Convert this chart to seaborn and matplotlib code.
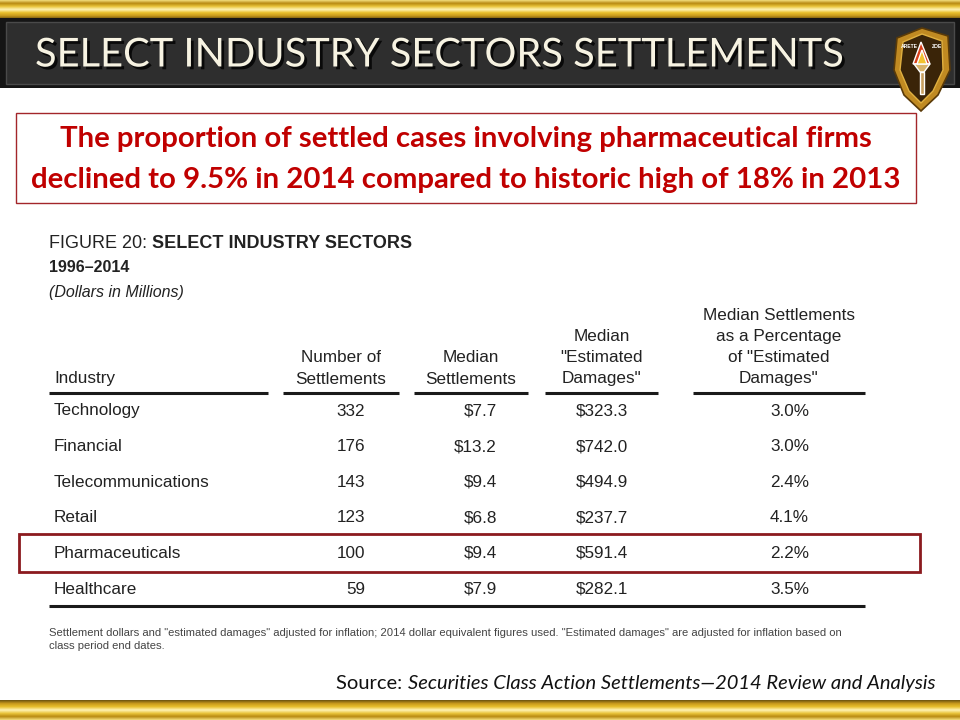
import numpy as np
import matplotlib
matplotlib.use("Agg")
import matplotlib.pyplot as plt
import matplotlib.patheffects as pe
from matplotlib.colors import LinearSegmentedColormap
from matplotlib.patches import Rectangle, Polygon
import seaborn as sns

# table data (Figure 20, 1996-2014, dollars in millions)
industries = ["Technology", "Financial", "Telecommunications", "Retail",
              "Pharmaceuticals", "Healthcare"]
n_settlements = [332, 176, 143, 123, 100, 59]
median_settlements = [7.7, 13.2, 9.4, 6.8, 9.4, 7.9]
median_damages = [323.3, 742.0, 494.9, 237.7, 591.4, 282.1]
pct_of_damages = [3.0, 3.0, 2.4, 4.1, 2.2, 3.5]

col_headers = [
    ["Industry"],
    ["Number of", "Settlements"],
    ["Median", "Settlements"],
    ["Median", '"Estimated', 'Damages"'],
    ["Median Settlements", "as a Percentage", 'of "Estimated', 'Damages"'],
]
highlight = "Pharmaceuticals"

sns.set_theme(style="white")
plt.rcParams["font.family"] = ["Liberation Sans", "DejaVu Sans"]

fig = plt.figure(figsize=(9.6, 7.2), dpi=100)
ax = fig.add_axes([0, 0, 1, 1])
ax.set_xlim(0, 960)
ax.set_ylim(720, 0)
ax.axis("off")


def text_width(t):
    fig.canvas.draw()
    bb = t.get_window_extent().transformed(ax.transData.inverted())
    return bb.x0, bb.x1


def fit_width(t, target):
    # rescale a text's font size so it spans the width seen in the slide
    x0, x1 = text_width(t)
    t.set_fontsize(t.get_fontsize() * target / (x1 - x0))


# gold bands top and bottom
gold = LinearSegmentedColormap.from_list(
    "gold", ["#f2dc7a", "#b88a12", "#e9c43a", "#fff4b8", "#e8bf2c", "#c99a1c", "#6b5210"])
grad = np.linspace(0, 1, 64).reshape(-1, 1)
ax.imshow(grad, cmap=gold, extent=[0, 960, 19, 0], aspect="auto", zorder=1)
ax.imshow(grad[::-1], cmap=gold, extent=[0, 960, 720, 700], aspect="auto", zorder=1)

# dark header
ax.add_patch(Rectangle((0, 18), 960, 70, facecolor="#151515", edgecolor="none", zorder=2))
ax.add_patch(Rectangle((6, 22), 948, 62, facecolor="#2e2e2e", edgecolor="#4a4a4a", lw=1, zorder=3))
title = ax.text(35, 55, "SELECT INDUSTRY SECTORS SETTLEMENTS", fontsize=34, color="#f7f3e2",
                family=["Lato", "DejaVu Sans"], va="center", ha="left", zorder=5,
                path_effects=[pe.withSimplePatchShadow(offset=(2, -2), shadow_rgbFace="black", alpha=0.8)])
fit_width(title, 810)

# shield logo
shield = [(897, 38), (922, 28), (948, 36), (950, 70), (938, 95), (921, 111), (904, 95), (894, 70)]
ax.add_patch(Polygon(shield, closed=True, facecolor="#c08a22", edgecolor="#5a3a08", lw=1.2, zorder=6))
inner = [(903, 42), (922, 34), (942, 41), (943, 70), (933, 91), (921, 103), (909, 91), (900, 70)]
ax.add_patch(Polygon(inner, closed=True, facecolor="#3a2408", edgecolor="#e0b040", lw=1, zorder=7))
ax.add_patch(Polygon([(913, 64), (921, 42), (930, 64)], closed=True, facecolor="#d8401a", zorder=8))
ax.add_patch(Polygon([(917, 64), (922, 50), (927, 64)], closed=True, facecolor="#f2c230", zorder=9))
ax.add_patch(Polygon([(914, 64), (930, 64), (924, 72), (920, 72)], closed=True, facecolor="#d9b36a", zorder=8))
ax.add_patch(Rectangle((920, 72), 4, 22, facecolor="#c8a060", zorder=8))
ax.text(909, 46, "ARETE", fontsize=3.6, color="white", ha="center", va="center", weight="bold", zorder=10)
ax.text(937, 46, "ZOE", fontsize=3.6, color="white", ha="center", va="center", weight="bold", zorder=10)

# red callout
ax.add_patch(Rectangle((16, 113), 900, 90, facecolor="white", edgecolor="#a3262a", lw=1, zorder=2))
callout = ["The proportion of settled cases involving pharmaceutical firms",
           "declined to 9.5% in 2014 compared to historic high of 18% in 2013"]
for i, line in enumerate(callout):
    ax.text(466, 139 + 41 * i, line, fontsize=21.2, weight="bold", color="#c00000",
            family=["Lato", "DejaVu Sans"], ha="center", va="center", zorder=3)

# figure caption
cap = ax.text(49, 243, "FIGURE 20: ", fontsize=13, color="#222222", va="center")
cx0, cx1 = text_width(cap)
ax.text(cx1, 243, "SELECT INDUSTRY SECTORS", fontsize=13, color="#222222", weight="bold", va="center")
ax.text(49, 268, "1996\u20132014", fontsize=11.5, weight="bold", color="#222222", va="center")
ax.text(49, 292, "(Dollars in Millions)", fontsize=11.5, style="italic", color="#222222", va="center")

# column layout
seg_x = [(49, 268), (283, 399), (414, 528), (545, 658), (693, 865)]
head_line_y = 393
row0_y, row_step = 411, 35.6
head_step = 21.3

for (x0, x1), lines in zip(seg_x, col_headers):
    ax.hlines(head_line_y, x0, x1, color="#1a1a1a", lw=2.2, zorder=3)
    for k, txt in enumerate(reversed(lines)):
        y = 379 - k * head_step
        if len(lines) == 1:
            ax.text(x0 + 5, y, txt, fontsize=12.3, color="#222222", ha="left", va="center")
        else:
            ax.text((x0 + x1) / 2, y, txt, fontsize=12.3, color="#222222", ha="center", va="center")

right_edges = [365, 497, 628, 809]
for i, name in enumerate(industries):
    y = row0_y + i * row_step
    ax.text(54, y, name, fontsize=12.3, color="#222222", ha="left", va="center")
    cells = [f"{n_settlements[i]}", f"${median_settlements[i]:.1f}",
             f"${median_damages[i]:.1f}", f"{pct_of_damages[i]:.1f}%"]
    for xr, c in zip(right_edges, cells):
        ax.text(xr, y, c, fontsize=12.3, color="#222222", ha="right", va="center")
    if name == highlight:
        ax.add_patch(Rectangle((19, y - 19), 901, 38, facecolor="none",
                               edgecolor="#8b1a1e", lw=2, zorder=4))

ax.hlines(row0_y + (len(industries) - 1) * row_step + 17, 49, 865, color="#1a1a1a", lw=2.2, zorder=3)

# footnote
note = ('Settlement dollars and "estimated damages" adjusted for inflation; 2014 dollar equivalent '
        'figures used. "Estimated damages" are adjusted for inflation based on')
nt = ax.text(49, 633, note, fontsize=8, color="#444444", va="center")
fit_width(nt, 797)
ax.text(49, 646, "class period end dates.", fontsize=nt.get_fontsize(), color="#444444", va="center")

# source
src_font = ["Lato", "DejaVu Sans"]
t = ax.text(935, 689, "Securities Class Action Settlements\u20142014 Review and Analysis",
            fontsize=14.5, style="italic", color="#111111", ha="right", va="baseline", family=src_font)
sx0, sx1 = text_width(t)
ax.text(sx0, 689, "Source: ", fontsize=14.5, color="#111111", ha="right",
        va="baseline", family=src_font)

fig.savefig("out.png", dpi=100)
